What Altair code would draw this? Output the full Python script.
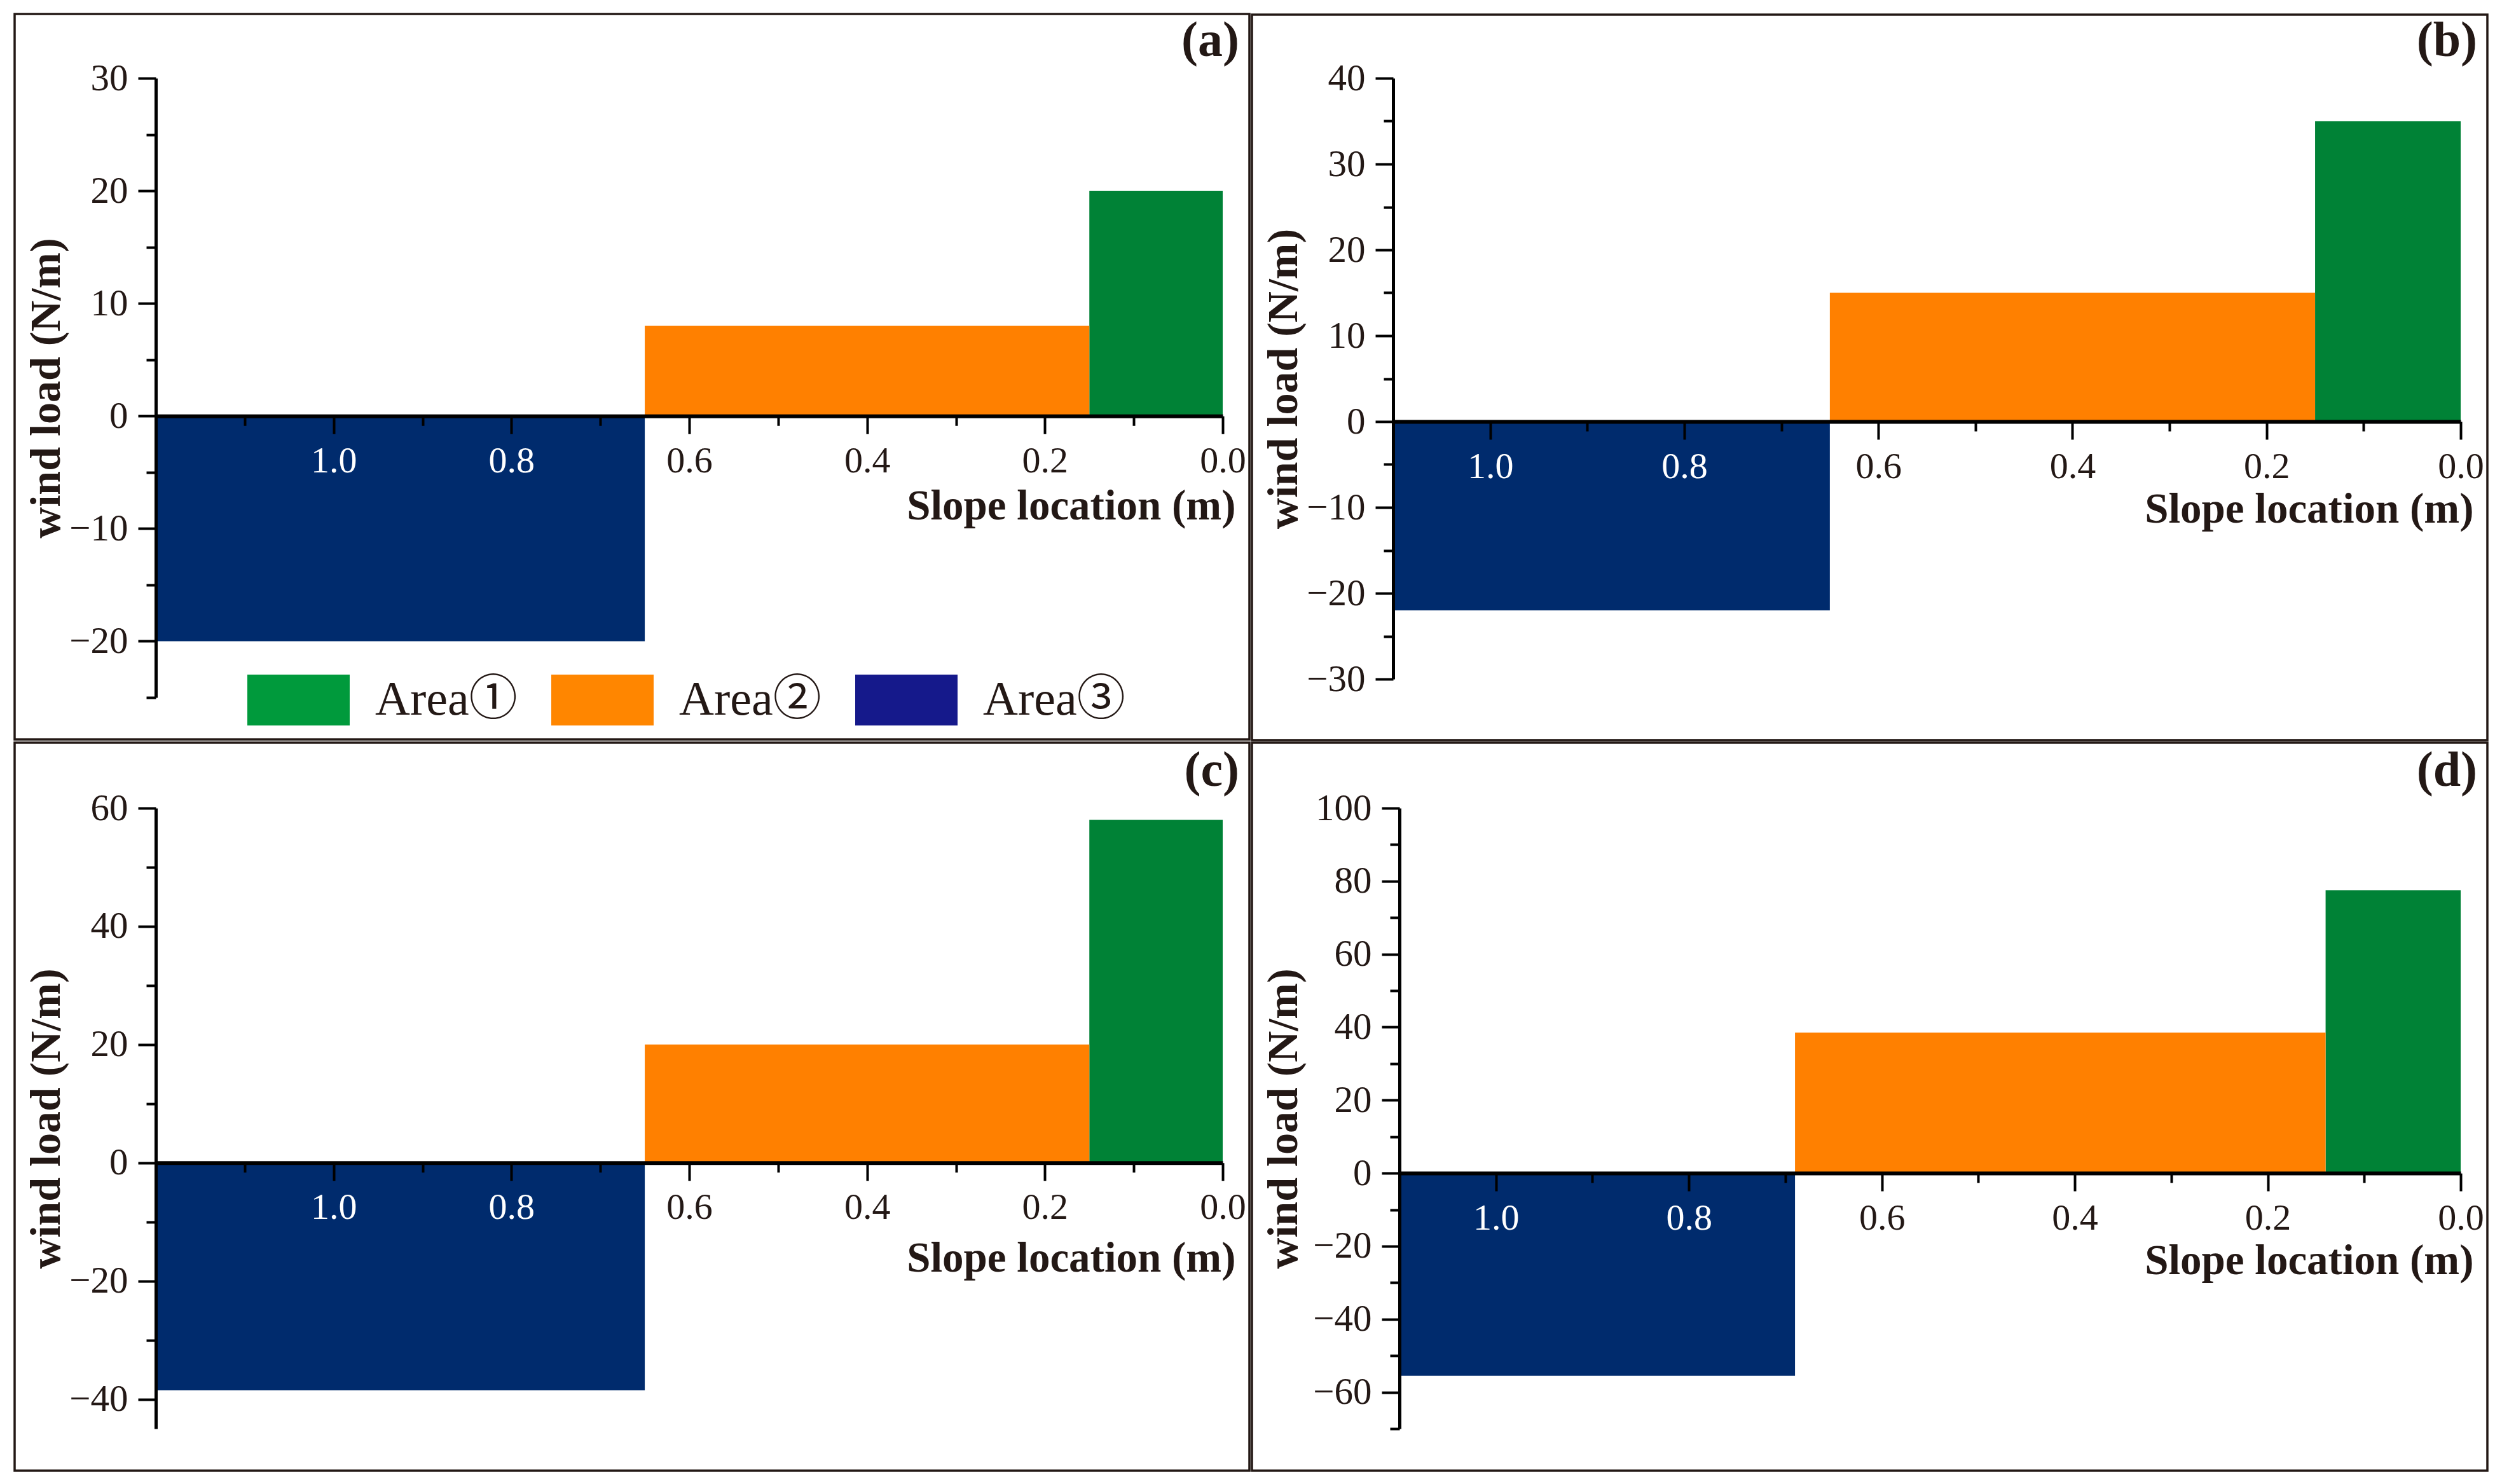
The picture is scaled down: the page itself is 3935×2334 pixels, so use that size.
import altair as alt
import pandas as pd

# ---------------- data ----------------
panels = ["(a)", "(b)", "(c)", "(d)"]
areas = ["Area①", "Area②", "Area③"]
edge_12 = [0.15, 0.15, 0.15, 0.14]      # boundary Area1 / Area2 (m)
edge_23 = [0.65, 0.65, 0.65, 0.69]      # boundary Area2 / Area3 (m)
x_end = [1.2, 1.1, 1.2, 1.1]            # end of slope axis (m)
load_1 = [20, 35, 58, 77.5]             # wind load Area1 (N/m)
load_2 = [8, 15, 20, 38.5]              # wind load Area2 (N/m)
load_3 = [-20, -22, -38.5, -55.5]       # wind load Area3 (N/m)
y_lo = [-25, -30, -45, -70]
y_hi = [30, 40, 60, 100]
y_step = [10, 10, 20, 20]
x_major = [0.0, 0.2, 0.4, 0.6, 0.8, 1.0]
x_minor = [0.1, 0.3, 0.5, 0.7, 0.9, 1.1]

bar_colors = ["#008236", "#ff8000", "#002b6d"]
legend_colors = ["#009a3c", "#ff8600", "#15198b"]

# ---------------- layout / style ----------------
W = [1678, 1679, 1678, 1669]
H = [974, 945, 976, 976]
FL = [222, 222, 222, 232]
FR = [42, 42, 42, 42]
FT = [101, 100, 103, 103]
FB = [66, 96, 66, 66]
XTITLE_Y = [162, 158, 171, 158]
INK = "#231815"
SERIF = "Liberation Serif, Times New Roman, serif"
LEG_FONT = "Liberation Serif, Noto Sans CJK SC, serif"


def panel(i):
    w, h = W[i], H[i]
    df = pd.DataFrame({
        "area": areas,
        "x0": [0.0, edge_12[i], edge_23[i]],
        "x1": [edge_12[i], edge_23[i], x_end[i]],
        "load": [load_1[i], load_2[i], load_3[i]],
    })
    xs = alt.Scale(domain=[0, x_end[i]], reverse=True, nice=False, zero=False)
    ys = alt.Scale(domain=[y_lo[i], y_hi[i]], nice=False, zero=False)
    off = -h * (0 - y_lo[i]) / (y_hi[i] - y_lo[i])

    step = y_step[i]
    y_major = [v for v in range(-200, 201, step) if y_lo[i] <= v <= y_hi[i]]
    y_minor = [v + step / 2 for v in range(-200, 201, step)
               if y_lo[i] <= v + step / 2 <= y_hi[i]]
    xm = [t for t in x_minor if t <= x_end[i] - 1e-9]

    x_axis = alt.Axis(
        values=x_major, format=".1f", orient="bottom", offset=off, zindex=1,
        grid=False, tickSize=28, tickWidth=4, tickColor="black",
        domainWidth=6, domainColor="black",
        labelFont=SERIF, labelFontSize=58, labelPadding=14, labelFlush=False,
        labelOverlap=False,
        labelColor={"condition": {"test": "datum.value > 0.7", "value": "white"}, "value": INK},
        title="Slope location (m)", titleFont=SERIF, titleFontSize=67,
        titleFontWeight="bold", titleColor=INK, titleX=w + 20,
        titleY=XTITLE_Y[i], titleAlign="right", titleBaseline="alphabetic",
    )
    y_axis = alt.Axis(
        values=y_major, format="d", orient="left", zindex=1, grid=False,
        tickSize=28, tickWidth=4, tickColor="black",
        domainWidth=5, domainColor="black",
        labelFont=SERIF, labelFontSize=59, labelPadding=16, labelColor=INK,
        labelFlush=False, labelOverlap=False,
        title="wind load (N/m)", titleFont=SERIF, titleFontSize=68,
        titleFontWeight="bold", titleColor=INK, titleX=-(FL[i] - 84),
        titleY=h / 2, titleAngle=270, titleAlign="center", titleBaseline="bottom",
    )
    x_axis_minor = alt.Axis(
        values=xm, orient="bottom", offset=off, zindex=1, grid=False,
        labels=False, domain=False, tickSize=15, tickWidth=4, tickColor="black",
        title=None,
    )
    y_axis_minor = alt.Axis(
        values=y_minor, orient="left", zindex=1, grid=False,
        labels=False, domain=False, tickSize=15, tickWidth=4, tickColor="black",
        title=None,
    )

    base = alt.Chart(df)
    bars = base.mark_rect().encode(
        x=alt.X("x0:Q", scale=xs, axis=x_axis),
        x2="x1:Q",
        y=alt.Y("load:Q", scale=ys, axis=y_axis),
        y2=alt.datum(0),
        fill=alt.Fill("area:N", scale=alt.Scale(domain=areas, range=bar_colors), legend=None),
    )
    minor = base.mark_rect(opacity=0).encode(
        x=alt.X("x0:Q", scale=xs, axis=x_axis_minor),
        x2="x1:Q",
        y=alt.Y("load:Q", scale=ys, axis=y_axis_minor),
        y2=alt.datum(0),
    )
    frame = alt.Chart(alt.Data(values=[{"f": 1}])).mark_rect(
        fillOpacity=0, stroke=INK, strokeWidth=3.5
    ).encode(
        x=alt.value(-FL[i]), x2=alt.value(w + FR[i]),
        y=alt.value(-FT[i]), y2=alt.value(h + FB[i]),
    )
    tag = alt.Chart(alt.Data(values=[{"tag": panels[i]}])).mark_text(
        align="right", baseline="alphabetic", font=SERIF, fontSize=78,
        fontWeight="bold", color=INK,
    ).encode(
        x=alt.value(w + 26), y=alt.value(-35), text="tag:N",
    )

    inner = alt.layer(bars, minor, frame, tag).resolve_axis(
        x="independent", y="independent"
    )

    if i != 0:
        return inner.properties(width=w, height=h)

    # legend drawn inside panel (a)
    leg_df = pd.DataFrame({"area": areas})
    leg_x = alt.X(
        "area:N", axis=None,
        scale=alt.Scale(type="band", domain=areas, range=[144, 1261],
                        paddingInner=0.6632, paddingOuter=0),
    )
    swatch = alt.Chart(leg_df).mark_rect().encode(
        x=leg_x, y=alt.value(938), y2=alt.value(1018),
        color=alt.Color("area:N", scale=alt.Scale(domain=areas, range=legend_colors), legend=None),
    )
    label = alt.Chart(leg_df).mark_text(
        align="left", baseline="middle", dx=120.5, font=LEG_FONT, fontSize=76, color=INK,
    ).encode(x=leg_x, y=alt.value(978), text="area:N")

    return alt.layer(inner, swatch, label).resolve_scale(x="independent").properties(
        width=w, height=h
    )


row1 = alt.hconcat(panel(0), panel(1), spacing=0).resolve_scale(color="independent", fill="independent")
row2 = alt.hconcat(panel(2), panel(3), spacing=0).resolve_scale(color="independent", fill="independent")
chart = alt.vconcat(row1, row2, spacing=0).resolve_scale(
    color="independent", fill="independent"
).properties(
    padding={"left": 13, "top": 12, "right": 5, "bottom": 5},
    background="white",
).configure_view(strokeWidth=0)

chart.save("out.html", embed_options={"renderer": "svg", "actions": False})
